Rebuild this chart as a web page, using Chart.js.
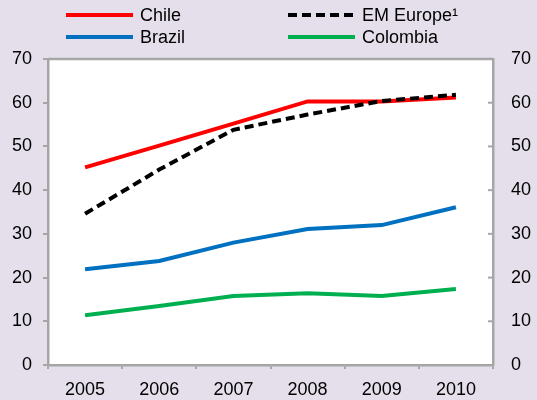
<!DOCTYPE html>
<html>
<head>
    <meta charset="UTF-8">
    <script src="https://cdn.jsdelivr.net/npm/chart.js@4.4.0/dist/chart.umd.min.js"></script>
    <style>
        body { margin:0; background:#E5DFEC; }
        #wrap { width:537px; height:400px; }
    </style>
</head>
<body>
<div id="wrap"><canvas id="chart" width="537" height="400"></canvas></div>
<script>
    // data
    const years = ['2005', '2006', '2007', '2008', '2009', '2010'];
    const chile = [45.2, 50.2, 55.2, 60.3, 60.3, 61.2];
    const emEurope = [34.6, 44.7, 53.8, 57.3, 60.4, 61.8];
    const brazil = [21.9, 23.8, 28.0, 31.1, 32.0, 36.1];
    const colombia = [11.4, 13.5, 15.8, 16.4, 15.8, 17.4];

    const axisGray = '#a6a6a6';
    const font = {family: '"Liberation Sans", Arial, sans-serif', size: 18};

    // legend slots: [dataset index, x, y]
    const legendSlots = [[0, 66, 15], [1, 288, 15], [2, 66, 37], [3, 288, 37]];

    const framePlugin = {
        id: 'frame',
        beforeDraw(chart) {
            const c = chart.ctx, a = chart.chartArea;
            c.save();
            c.fillStyle = '#E5DFEC';
            c.fillRect(0, 0, chart.width, chart.height);
            c.fillStyle = '#fff';
            c.fillRect(a.left, a.top, a.right - a.left, a.bottom - a.top);
            c.restore();
        },
        afterDraw(chart) {
            const c = chart.ctx, a = chart.chartArea;
            c.save();
            c.strokeStyle = axisGray;
            c.lineWidth = 2.5;
            c.beginPath();
            c.moveTo(a.left, a.top);
            c.lineTo(a.right, a.top);
            c.stroke();
            // right axis ticks point inward
            const y2 = chart.scales.y2;
            c.lineWidth = 2;
            y2.ticks.forEach(function(t) {
                var py = y2.getPixelForValue(t.value);
                c.beginPath();
                c.moveTo(a.right - 5, py);
                c.lineTo(a.right, py);
                c.stroke();
            });
            // legend
            c.font = font.size + 'px ' + font.family;
            c.textBaseline = 'middle';
            c.fillStyle = '#000';
            legendSlots.forEach(function(s) {
                var ds = chart.data.datasets[s[0]];
                c.strokeStyle = ds.borderColor;
                c.lineWidth = 4;
                c.setLineDash(ds.borderDash || []);
                c.beginPath();
                c.moveTo(s[1], s[2]);
                c.lineTo(s[1] + 67, s[2]);
                c.stroke();
                c.setLineDash([]);
                c.fillText(ds.label, s[1] + 74, s[2] + 1);
            });
            c.restore();
        }
    };

    function yAxis(pos, width) {
        return {
            position: pos,
            min: 0,
            max: 70,
            ticks: {stepSize: 10, color: '#000', font: font, padding: pos === 'left' ? 11 : 18},
            border: {color: axisGray, width: 2.5},
            grid: {drawOnChartArea: false, drawTicks: pos === 'left', tickLength: 5, color: axisGray, lineWidth: 2},
            afterFit: function(scale) { scale.width = width; }
        };
    }

    new Chart(document.getElementById('chart'), {
        type: 'line',
        data: {
            labels: years,
            datasets: [
                {label: 'Chile', data: chile, borderColor: '#FF0000', order: 1},
                {label: 'EM Europe\u00b9', data: emEurope, borderColor: '#000000', borderDash: [9, 5], order: 0},
                {label: 'Brazil', data: brazil, borderColor: '#0070C0', order: 1},
                {label: 'Colombia', data: colombia, borderColor: '#00B050', order: 1}
            ]
        },
        options: {
            responsive: false,
            animation: false,
            layout: {padding: {top: 59, left: 0, right: 0, bottom: 0}},
            elements: {
                line: {borderWidth: 4, tension: 0, borderCapStyle: 'butt'},
                point: {radius: 0}
            },
            plugins: {legend: {display: false}, tooltip: {enabled: false}},
            scales: {
                x: {
                    offset: true,
                    ticks: {color: '#000', font: font, padding: 10, maxRotation: 0},
                    border: {color: axisGray, width: 2.5},
                    grid: {offset: true, drawOnChartArea: false, tickLength: 4, color: axisGray, lineWidth: 2},
                    afterFit: function(scale) { scale.height = 35; }
                },
                y: yAxis('left', 48),
                y2: yAxis('right', 44)
            }
        },
        plugins: [framePlugin]
    });
</script>
</body>
</html>
